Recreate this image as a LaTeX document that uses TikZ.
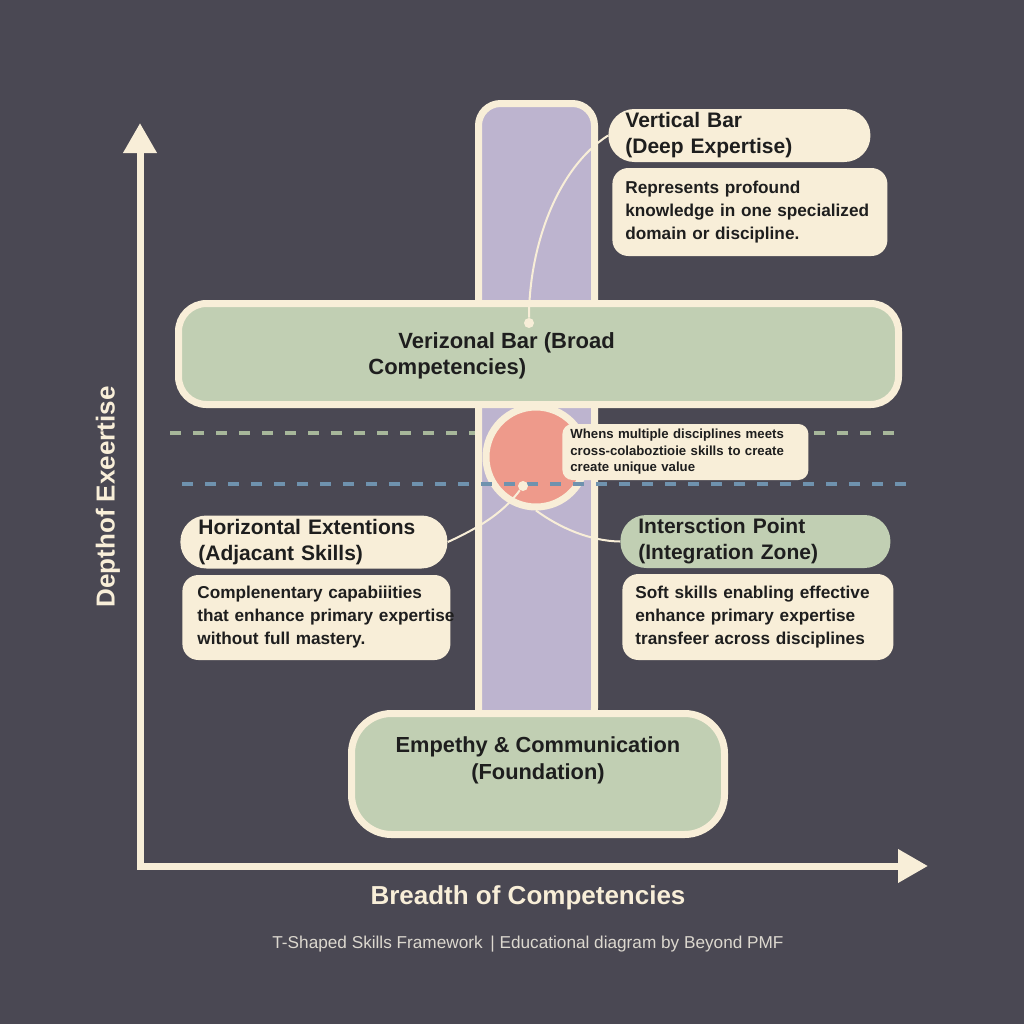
\documentclass[tikz,border=0pt]{standalone}
\usepackage{fontspec}
\setmainfont{Liberation Sans}
\usetikzlibrary{arrows.meta, positioning}
\definecolor{bg}{HTML}{4A4853}
\definecolor{cream}{HTML}{F8EED8}
\definecolor{lilac}{HTML}{BDB4CF}
\definecolor{sage}{HTML}{C1CFB3}
\definecolor{salmon}{HTML}{EE9A8B}
\definecolor{sagedash}{HTML}{A7B79A}
\definecolor{bluedash}{HTML}{6F92AE}
\definecolor{ink}{HTML}{1E1E1E}
\definecolor{credit}{HTML}{DCD8CF}
\tikzset{
  >={Triangle[length=15pt, width=16pt]},
  every picture/.style={line cap=butt, line join=round},
  bar/.style={draw=cream, line width=3.5pt},
  guide/.style={line width=2pt, dash pattern=on 5.5pt off 6pt},
  link/.style={cream, line width=1pt},
  dot/.style={circle, fill=cream, inner sep=0pt, minimum size=5pt},
  axis/.style={<->, cream, line width=3.5pt, line join=miter},
  % label boxes: text is set left, box starts at the west anchor
  pill/.style={fill=cream, rounded corners=13pt, anchor=west, align=left, inner xsep=9pt, inner ysep=0pt,
    minimum height=26.5pt, text=ink, font=\fontsize{10.5}{13}\selectfont\bfseries},
  note/.style={fill=cream, rounded corners=8pt, anchor=west, align=left, inner xsep=6.5pt, inner ysep=0pt,
    minimum height=43pt, text=ink, font=\fontsize{8.6}{11.5}\selectfont\bfseries},
  axislabel/.style={text=cream, font=\fontsize{13}{15}\selectfont\bfseries},
}
\begin{document}
\begin{tikzpicture}[x=0.5pt, y=-0.5pt]
  \fill[bg] (0,0) rectangle (1024,1024);
  \useasboundingbox (0,0) rectangle (1024,1024);
  % ---------------- guides behind the T
  \draw[guide, sagedash] (170,433) -- (905,433);
  % ---------------- the T: vertical bar, horizontal bar, foundation
  \draw[bar, fill=lilac, rounded corners=11pt] (478.5,103.5) rectangle (594.5,730);
  \draw[bar, fill=sage, rounded corners=14pt] (178.5,303.5) rectangle (898.5,404.5);
  \node[anchor=west, align=left, inner sep=0pt, text=ink, font=\fontsize{11}{13}\selectfont\bfseries]
    (hbarlabel) at (368,356) {\hspace*{15pt}Verizonal Bar (Broad\\Competencies)};
  \draw[bar, fill=sage, rounded corners=20pt] (351.5,713.5) rectangle (724.5,834.5);
  \node[align=center, text=ink, font=\fontsize{10.9}{13.5}\selectfont\bfseries]
    (foundation) at (538,760) {Empethy \& Communication\\(Foundation)};
  % ---------------- intersection
  \node[circle, fill=salmon, draw=cream, line width=3.5pt, inner sep=0pt, minimum size=50pt] (isect) at (536,457) {};
  \draw[guide, bluedash] (182,484) -- (908,484);
  \node[dot] (hdot) at (529,323) {};
  \node[dot] (idot) at (523,486) {};
  % ---------------- callouts
  \node[pill, text width=114pt, inner xsep=8.5pt] (vtitle) at (608,135.5) {Vertical Bar\\(Deep Expertise)};
  \node[note, text width=124.5pt, minimum height=44pt] (vdesc) at (612,212)
    {Represents profound\\knowledge in one specialized\\domain or discipline.};
  \node[pill, text width=115.5pt] (htitle) at (180,542) {Horizontal Extentions\\(Adjacant Skills)};
  \node[note, text width=119pt, inner xsep=7.5pt, minimum height=42.5pt] (hdesc) at (182,617.5)
    {Complenentary capabiiities\\\mbox{that enhance primary expertise}\\without full mastery.};
  \node[pill, fill=sage, text width=117pt] (ititle) at (620,541.5) {Intersction Point\\(Integration Zone)};
  \node[note, text width=122.5pt] (idesc) at (622,617)
    {Soft skills enabling effective\\enhance primary expertise\\transfeer across disciplines};
  \draw[link] (vtitle.west) .. controls (555,170) and (529,250) .. (hdot);
  \draw[link] (idot) .. controls (505,510) and (485,525) .. (htitle.east);
  \draw[link] (isect.south) .. controls (560,528) and (590,541) .. (ititle.west);
  \node[note, text width=115pt, inner xsep=4pt, minimum height=28pt, rounded corners=5pt,
    font=\fontsize{6.6}{8.25}\selectfont\bfseries] (merge) at (562,452)
    {Whens multiple disciplines meets\\cross-colaboztioie skills to create\\create unique value};
  % ---------------- axes
  \draw[axis] (140,123) -- (140,866) -- (928,866);
  \node[axislabel, rotate=90] (ylabel) at (108,497) {Depthof Exeertise};
  \node[axislabel] (xlabel) at (528,898) {Breadth of Competencies};
  \node[text=credit, font=\fontsize{8.6}{10}\selectfont] (creditline) at (528,944)
    {T-Shaped Skills Framework \,| Educational diagram by Beyond PMF};
\end{tikzpicture}
\end{document}
